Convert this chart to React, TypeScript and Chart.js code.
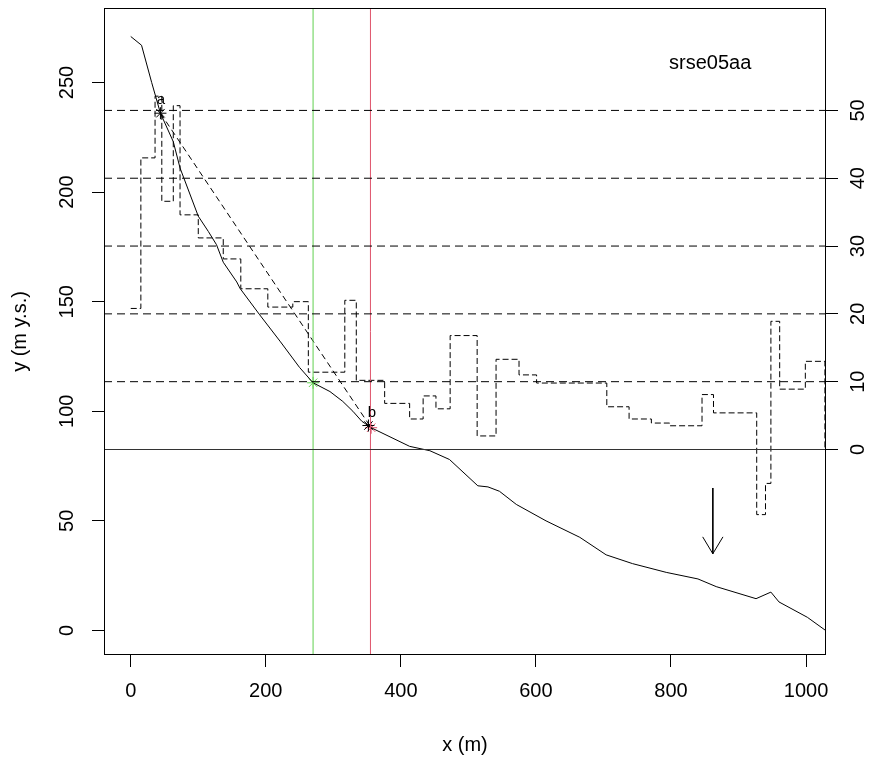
import React, { useEffect, useRef } from "react";
import { Chart, registerables } from "chart.js";

Chart.register(...registerables);

// ---- data ----
const profileX = [0, 16, 31, 44, 63, 73, 100, 115, 127, 137, 157, 162, 191, 221, 250, 270, 295, 314, 329, 342, 356, 413, 443, 472, 514, 529, 546, 571, 615, 665, 704, 743, 793, 840, 867, 926, 948, 960, 1002, 1029];
const profileY = [271, 267, 250, 236, 223, 211, 189, 182, 176, 168, 159, 156, 144, 132, 120, 113, 109, 104.5, 100, 95.5, 92.5, 84, 82, 78, 66, 65.5, 63.5, 57.5, 50, 42.5, 34.5, 30.5, 26.5, 23.5, 20, 14.5, 17.5, 13, 6, 0];

const slopeX = [0, 15, 36, 46, 63, 73, 100, 137, 163, 203, 240, 263, 317, 334, 376, 413, 433, 452, 473, 513, 541, 575, 601, 705, 738, 771, 798, 846, 863, 927, 940, 948, 961, 999, 1028];
const slopeV = [20.8, 43, 52.1, 36.6, 50.7, 34.6, 31.2, 28.1, 23.7, 21, 21.8, 11.4, 22, 10.2, 6.8, 4.5, 7.9, 6, 16.8, 2, 13.3, 11, 9.8, 6.3, 4.5, 3.9, 3.5, 8.1, 5.4, -9.6, -5, 18.9, 8.9, 13, 0.2];

const refLevels = [10, 20, 30, 40, 50];
const baseLevel = 0;

const xTicks = [0, 200, 400, 600, 800, 1000];
const yTicks = [0, 50, 100, 150, 200, 250];
const y2Ticks = [0, 10, 20, 30, 40, 50];

const xRange = [-39.6, 1029.6];
const yRange = [-11.2, 284];
const y2Range = [-30.3, 65.1];

const greenX = 270;
const redX = 355;
const pointA = [44, 236];
const pointG = [270, 113];
const pointB = [356, 92.5];
const pointBblack = [352, 93.5];

const arrowX = [862, 862];
const arrowY = [65, 35];
const arrowHeadX = [847, 862, 877];
const arrowHeadY = [42.7, 35, 42.7];

const plotTag = "srse05aa";
const tagPos = [858, 258.5];
const labelA = "a";
const labelAPos = [44.7, 242];
const labelB = "b";
const labelBPos = [357, 99.5];

const xTitle = "x (m)";
const yTitle = "y (m y.s.)";

const GREEN = "#61D04F";
const RED = "#DF536B";
const FONT = '"Liberation Sans", Arial, Helvetica, sans-serif';

const pts = (xs: number[], ys: number[]) => xs.map((x, i) => ({ x, y: ys[i] }));

const lineDs = (data: any[], extra: any = {}) => ({
  data,
  showLine: true,
  borderColor: "#000",
  borderWidth: 1,
  pointRadius: 0,
  fill: false,
  tension: 0,
  yAxisID: "y",
  ...extra,
});

const annotPlugin = {
  id: "annot",
  afterDatasetsDraw(chart: any) {
    const { ctx, chartArea: ca, scales } = chart;
    const xs = scales.x;
    const ys = scales.y;
    ctx.save();
    ctx.strokeStyle = "#000";
    ctx.lineWidth = 1;
    ctx.strokeRect(Math.round(ca.left) + 0.5, Math.round(ca.top) + 0.5, Math.round(ca.right - ca.left) - 1, Math.round(ca.bottom - ca.top) - 1);
    ctx.fillStyle = "#000";
    ctx.textAlign = "center";
    ctx.textBaseline = "middle";
    ctx.font = `20px ${FONT}`;
    ctx.fillText(plotTag, xs.getPixelForValue(tagPos[0]), ys.getPixelForValue(tagPos[1]));
    ctx.font = `15px ${FONT}`;
    ctx.fillText(labelA, xs.getPixelForValue(labelAPos[0]), ys.getPixelForValue(labelAPos[1]));
    ctx.fillText(labelB, xs.getPixelForValue(labelBPos[0]), ys.getPixelForValue(labelBPos[1]));
    ctx.restore();
  },
};

export default function App() {
  const ref = useRef<HTMLCanvasElement | null>(null);

  useEffect(() => {
    if (!ref.current) return;
    const datasets: any[] = [];

    // reference horizontal lines (right axis)
    refLevels.forEach((lv) => {
      datasets.push(lineDs(pts(xRange, [lv, lv]), { yAxisID: "y2", borderDash: [8, 5] }));
    });
    datasets.push(lineDs(pts(xRange, [baseLevel, baseLevel]), { yAxisID: "y2", borderColor: "#333" }));

    // vertical lines
    datasets.push(lineDs(pts([greenX, greenX], yRange), { borderColor: GREEN }));
    datasets.push(lineDs(pts([redX, redX], yRange), { borderColor: RED }));

    // slope step function
    datasets.push(lineDs(pts(slopeX, slopeV), { yAxisID: "y2", stepped: "before", borderDash: [6, 3] }));

    // profile
    datasets.push(lineDs(pts(profileX, profileY)));

    // chord a -> b
    datasets.push(lineDs(pts([pointA[0], pointB[0]], [pointA[1], pointB[1]]), { borderDash: [6, 4] }));

    // arrow
    datasets.push(lineDs(pts(arrowX, arrowY)));
    datasets.push(lineDs(pts(arrowHeadX, arrowHeadY)));

    // star markers
    const star = (p: number[], color: string) => ({
      data: [{ x: p[0], y: p[1] }],
      showLine: false,
      pointStyle: "star",
      pointRadius: 6,
      pointBorderWidth: 1,
      pointBorderColor: color,
      pointBackgroundColor: color,
      yAxisID: "y",
    });
    datasets.push(star(pointA, "#000"));
    datasets.push(star(pointG, GREEN));
    datasets.push(star(pointBblack, "#000"));
    datasets.push(star(pointB, RED));

    const tickFont = { size: 20, family: FONT };
    const grid = { drawOnChartArea: false, drawTicks: true, tickLength: 12, color: "#000", lineWidth: 1 };
    const border = { display: false };
    const fitV = (w: number) => (s: any) => {
      s.width = w;
      s.paddingTop = 0;
      s.paddingBottom = 0;
    };

    const chart = new Chart(ref.current, {
      type: "scatter",
      data: { datasets },
      plugins: [annotPlugin],
      options: {
        responsive: false,
        animation: false,
        devicePixelRatio: 1,
        layout: { padding: { top: 8, left: 0, right: 0, bottom: 0 } },
        plugins: { legend: { display: false }, tooltip: { enabled: false } },
        scales: {
          x: {
            type: "linear",
            position: "bottom",
            min: xRange[0],
            max: xRange[1],
            afterBuildTicks: (s: any) => { s.ticks = xTicks.map((v) => ({ value: v })); },
            afterFit: (s: any) => { s.height = 105; s.paddingLeft = 0; s.paddingRight = 0; },
            grid,
            border,
            ticks: { color: "#000", font: tickFont, padding: 12, maxRotation: 0, autoSkip: false, callback: (v: any) => String(v) },
            title: { display: true, text: xTitle, color: "#000", font: tickFont, padding: { top: 0, bottom: 3 } },
          },
          y: {
            type: "linear",
            position: "left",
            min: yRange[0],
            max: yRange[1],
            afterBuildTicks: (s: any) => { s.ticks = yTicks.map((v) => ({ value: v })); },
            afterFit: fitV(104),
            grid,
            border,
            ticks: { color: "#000", font: tickFont, padding: 8, minRotation: 90, maxRotation: 90, crossAlign: "center", autoSkip: false, callback: (v: any) => String(v) },
            title: { display: true, text: yTitle, color: "#000", font: tickFont, padding: { top: 8, bottom: 0 } },
          },
          y2: {
            type: "linear",
            position: "right",
            min: y2Range[0],
            max: y2Range[1],
            afterBuildTicks: (s: any) => { s.ticks = y2Ticks.map((v) => ({ value: v })); },
            afterFit: fitV(49),
            grid,
            border,
            ticks: { color: "#000", font: tickFont, padding: 9, minRotation: 90, maxRotation: 90, crossAlign: "center", autoSkip: false, callback: (v: any) => String(v) },
          },
        },
      } as any,
    });
    return () => chart.destroy();
  }, []);

  return (
    <div style={{ position: "absolute", left: 0, top: 0, width: 875, height: 760, background: "#fff" }}>
      <canvas ref={ref} width={875} height={760} style={{ width: 875, height: 760, display: "block" }} />
    </div>
  );
}
